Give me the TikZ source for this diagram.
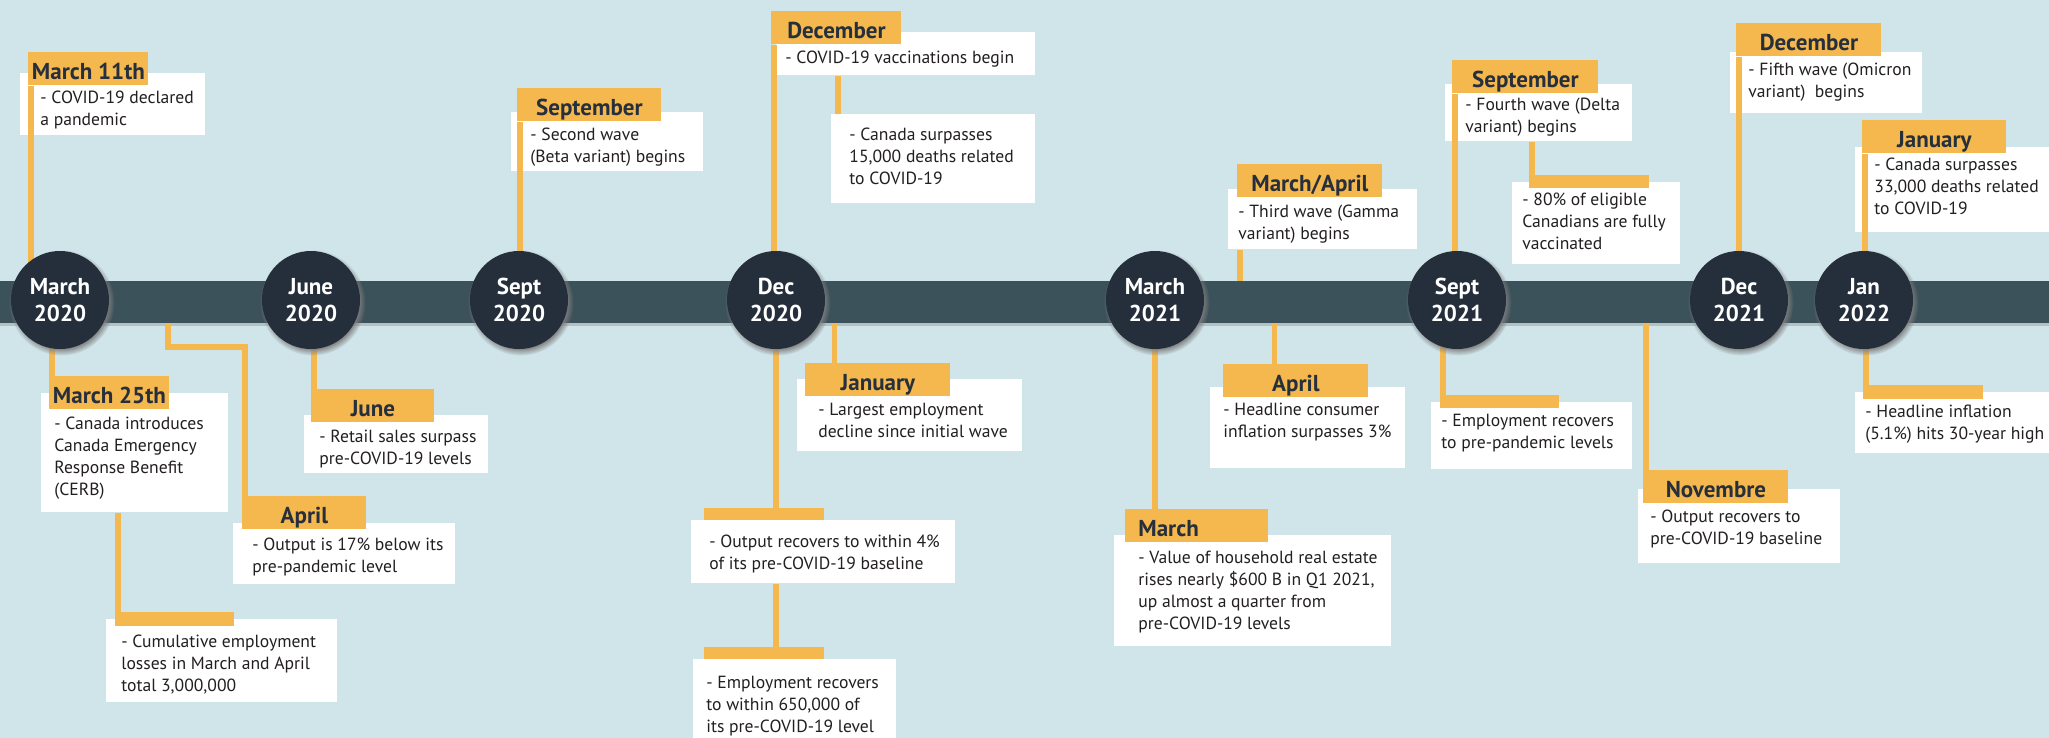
\documentclass[tikz,border=0pt]{standalone}
\usepackage{fontspec}
\setmainfont{PT Sans}
\usetikzlibrary{shadows}

\definecolor{sky}{HTML}{CFE5EA}
\definecolor{slate}{HTML}{3C525A}
\definecolor{navy}{HTML}{252F3B}
\definecolor{gold}{HTML}{F4B84E}
\definecolor{ink}{HTML}{262F3C}
\definecolor{body}{HTML}{231F20}

\pgfdeclarelayer{front}
\pgfsetlayers{main,front}

\newlength\px
\setlength\px{0.5pt}
\newcommand*\stemx{2.75\px}
% #1 left padding, #2 first baseline, #3 lines
\newcommand\evt[3]{\rule{0pt}{#2\px}\hspace*{#1\px}\begin{tabular}[t]{@{}l@{}}#3\end{tabular}}

\tikzset{card/.style 2 args={
    fill=white,
    anchor=north west,
    inner sep=0pt,
    font=\fontsize{8.8}{11}\selectfont,
    text=body,
    execute at begin node={\begin{minipage}[t][#2\px][t]{#1\px}},
    execute at end node={\end{minipage}}
},
tab/.style 2 args={
    fill=gold,
    anchor=north west,
    inner sep=0pt,
    minimum width=#1\px,
    minimum height=#2\px
},
head/.style={
    tab={#1}{33},
    font=\bfseries\fontsize{11.5}{13}\selectfont,
    text=ink,
    text height=27\px,
    text depth=6\px
},
stem/.style={draw=gold, line width=5.5\px},
month/.style={
    circle,
    fill=navy,
    minimum size=98\px,
    inner sep=0pt,
    text=white,
    align=center,
    font=\bfseries\fontsize{11.5}{13.5}\selectfont,
    circular drop shadow={shadow scale=1.08, shadow xshift=1.5\px, shadow yshift=-2.5\px}
},
timeline/.style={
    fill=slate,
    minimum width=2049\px,
    minimum height=42\px,
    inner sep=0pt,
    drop shadow={shadow xshift=0pt, shadow yshift=-3\px, opacity=.35}
}}

\begin{document}
\begin{tikzpicture}[x=\px,y=-\px]

    \useasboundingbox (0,0) rectangle (2049,738);
    \fill[sky] (0,0) rectangle (2049,738);

    % The time line itself.
    \node[timeline] (bar) at (1024.5,302) {};

    % Month discs sit on top of everything.
    \begin{pgfonlayer}{front}
    \foreach \name/\x/\mon/\yr in {m20/60/March/2020, j20/311/June/2020, s20/519/Sept/2020,
        d20/776/Dec/2020, m21/1155/March/2021, s21/1457/Sept/2021, d21/1739/Dec/2021, j22/1864/Jan/2022}
        \node[month] (\name) at (\x,300) {\mon\\\yr};
    \end{pgfonlayer}

    % Write the entries: card first, then its tab.
    %\node[card={WIDTH}{HEIGHT}] at (LEFT,TOP) {\evt{PAD}{BASELINE}{TEXT}};
    % March 2020
    \node[card={185}{62}] (c11) at (20,73) {\evt{20}{30}{- COVID-19 declared\\a pandemic}};
    \node[head=120] (t11) at (28,52) {March 11th};
    \node[card={187}{119}] (c25) at (41,393) {\evt{13}{36}{- Canada introduces\\Canada Emergency\\Response Benefit\\(CERB)}};
    \node[head=120] (t25) at (49,376) {March 25th};
    \node[card={231}{83}] (cCum) at (106,619) {\evt{15}{28}{- Cumulative employment\\losses in March and April\\total 3,000,000}};
    \node[tab={119}{14}] (tCum) at (115,612) {};

    % April and June 2020
    \node[card={222}{61}] (cA20) at (233,523) {\evt{19}{27}{- Output is 17\% below its\\pre-pandemic level}};
    \node[head=124] (tA20) at (242,496) {April};
    \node[card={184}{58}] (cJ20) at (304,415) {\evt{15}{27}{- Retail sales surpass\\pre-COVID-19 levels}};
    \node[head=123] (tJ20) at (311,389) {June};

    % September 2020
    \node[card={192}{59}] (cS20) at (511,112) {\evt{19}{28}{- Second wave\\(Beta variant) begins}};
    \node[head=144] (tS20) at (517,88) {September};

    % December 2020
    \node[card={259}{43}] (cD20) at (776,32) {\evt{9}{31}{- COVID-19 vaccinations begin}};
    \node[head=130] (tD20) at (771,11) {December};
    \node[card={204}{89}] (c15k) at (831,114) {\evt{18}{26}{- Canada surpasses\\15,000 deaths related\\to COVID-19}};
    \node[card={225}{72}] (cJ21) at (797,379) {\evt{21}{36}{- Largest employment\\decline since initial wave}};
    \node[head=145] (tJ21) at (805,363) {January};
    \node[card={264}{63}] (cOut) at (691,520) {\evt{18}{27}{- Output recovers to within 4\%\\of its pre-COVID-19 baseline}};
    \node[tab={120}{12}] (tOut) at (704,508) {};
    \node[card={203}{90}] (cEmp) at (693,659) {\evt{13}{29}{- Employment recovers\\to within 650,000 of\\its pre-COVID-19 level}};
    \node[tab={120}{12}] (tEmp) at (704,647) {};

    % March 2021
    \node[card={189}{60}] (cMA) at (1228,189) {\evt{10}{28}{- Third wave (Gamma\\variant) begins}};
    \node[head=145] (tMA) at (1237,164) {March/April};
    \node[card={195}{81}] (cA21) at (1210,387) {\evt{13}{28}{- Headline consumer\\inflation surpasses 3\%}};
    \node[head=145] (tA21) at (1223,364) {April};
    \node[card={277}{111}] (cM21) at (1114,535) {\evt{24}{28}{- Value of household real estate\\rises nearly \$600 B in Q1 2021,\\up almost a quarter from\\pre-COVID-19 levels}};
    \node[head=143, text width=117\px, align=left] (tM21) at (1125,509) {March};

    % September 2021
    \node[card={187}{57}] (cS21) at (1445,84) {\evt{20}{26}{- Fourth wave (Delta\\variant) begins}};
    \node[head=146] (tS21) at (1452,60) {September};
    \node[card={168}{82}] (c80) at (1512,182) {\evt{10}{23}{- 80\% of eligible\\Canadians are fully\\vaccinated}};
    \node[tab={120}{13}] (t80) at (1529,175) {};
    \node[card={201}{67}] (cE21) at (1431,402) {\evt{10}{24}{- Employment recovers\\to pre-pandemic levels}};
    \node[tab={119}{13}] (tE21) at (1440,395) {};
    \node[card={202}{74}] (cNov) at (1638,489) {\evt{12}{33}{- Output recovers to\\pre-COVID-19 baseline}};
    \node[head=145] (tNov) at (1643,470) {Novembre};

    % December 2021 and January 2022
    \node[card={192}{61}] (cD21) at (1730,52) {\evt{18}{23}{- Fifth wave (Omicron\\variant)~ begins}};
    \node[head=145] (tD21) at (1736,23) {December};
    \node[card={200}{85}] (cJ22) at (1855,147) {\evt{19}{23}{- Canada surpasses\\33,000 deaths related\\to COVID-19}};
    \node[head=144] (tJ22) at (1862,120) {January};
    \node[card={200}{61}] (cInf) at (1855,392) {\evt{10}{25}{- Headline inflation\\(5.1\%) hits 30-year high}};
    \node[tab={120}{14}] (tInf) at (1863,385) {};

    % Stems from the tabs to the discs above the line.
    \foreach \t/\m in {t11/m20, tS20/s20, tD20/d20, tS21/s21, tD21/d21, tJ22/j22}
        \draw[stem] ([xshift=\stemx]\t.south west) -- ([xshift=\stemx]\t.south west |- \m.center);
    % Stems from the discs down to the tabs below the line.
    \foreach \t/\m in {t25/m20, tJ20/j20, tE21/s21, tInf/j22}
        \draw[stem] ([xshift=\stemx]\t.north west |- \m.center) -- ([xshift=\stemx]\t.north west);
    % Stems from one card to the next one.
    \draw[stem] ([xshift=\stemx]tCum.north west |- c25.south) -- ([xshift=\stemx]tCum.north west);
    \draw[stem] ([xshift=\stemx]t80.north west |- cS21.south) -- ([xshift=\stemx]t80.north west);
    \draw[stem] ([xshift=7\px]c15k.north west |- cD20.south) -- ([xshift=7\px]c15k.north west);
    \draw[stem] (d20) -- (d20 |- tOut.north);
    \draw[stem] (d20 |- cOut.south) -- (d20 |- tEmp.north);
    \draw[stem] (m21) -- (m21 |- tM21.north);
    % Stems that leave from the bar between two discs.
    \coordinate (kA20) at (168,323);
    \draw[stem] (kA20) -- ++(0,24) -| ([xshift=\stemx]tA20.north west);
    \draw[stem] ([xshift=29.5\px]tJ21.north west |- bar.south) -- ([xshift=29.5\px]tJ21.north west);
    \draw[stem] ([xshift=\stemx]tMA.south west |- cMA.south) -- ([xshift=\stemx]tMA.south west |- bar.north);
    \draw[stem] ([xshift=51.5\px]tA21.north west |- bar.south) -- ([xshift=51.5\px]tA21.north west);
    \draw[stem] ([xshift=\stemx]tNov.north west |- bar.south) -- ([xshift=\stemx]tNov.north west);

\end{tikzpicture}
\end{document}
